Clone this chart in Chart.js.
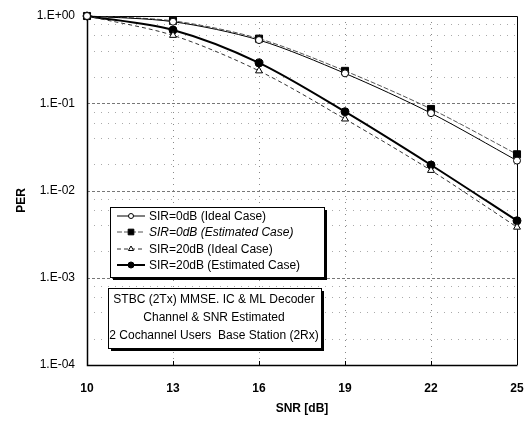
<!DOCTYPE html>
<html>
<head>
<meta charset="utf-8">
<script src="https://cdn.jsdelivr.net/npm/chart.js@4.4.1/dist/chart.umd.min.js"></script>
<style>
  html, body { margin: 0; padding: 0; background: #fff; }
  #wrap { width: 527px; height: 424px; }
</style>
</head>
<body>
<div id="wrap"><canvas id="perChart" width="527" height="424"></canvas></div>
<script>
// values
var snr = [10, 13, 16, 19, 22, 25];
var sir0Ideal = [1.0, 0.86, 0.53, 0.22, 0.077, 0.022];
var sir0Est = [1.0, 0.88, 0.55, 0.235, 0.086, 0.026];
var sir20Ideal = [1.0, 0.60, 0.235, 0.066, 0.017, 0.0038];
var sir20Est = [1.0, 0.69, 0.29, 0.080, 0.0196, 0.0045];
var seriesLabels = ['SIR=0dB (Ideal Case)', 'SIR=0dB (Estimated Case)', 'SIR=20dB (Ideal Case)', 'SIR=20dB (Estimated Case)'];
var yTicks = [1, 0.1, 0.01, 0.001, 0.0001];
var xTicks = [10, 13, 16, 19, 22, 25];
var noteLines = ['STBC (2Tx) MMSE. IC & ML Decoder', 'Channel & SNR Estimated', '2 Cochannel Users  Base Station (2Rx)'];

var FONT = '"Liberation Sans", Arial, sans-serif';

function toPoints(values) {
    return values.map(function (v, i) { return { x: snr[i], y: v }; });
}

function expLabel(v) {
    var e = Math.round(Math.log10(v));
    var s = Math.abs(e) < 10 ? '0' + Math.abs(e) : '' + Math.abs(e);
    return '1.E' + (e < 0 ? '-' : '+') + s;
}

// draws a marker using chart.js point helper
function marker(ctx, ds, x, y) {
    Chart.helpers.drawPoint(ctx, {
        pointStyle: ds.pointStyle,
        radius: ds.pointRadius,
        rotation: 0,
        borderWidth: ds.pointBorderWidth
    }, x, y);
}

function shadowBox(ctx, x, y, w, h) {
    ctx.save();
    ctx.fillStyle = '#000';
    ctx.fillRect(x + 3, y + 3, w, h);
    ctx.fillStyle = '#fff';
    ctx.fillRect(x, y, w, h);
    ctx.strokeStyle = '#000';
    ctx.lineWidth = 1;
    ctx.strokeRect(x + 0.5, y + 0.5, w, h);
    ctx.restore();
}

function hLine(ctx, a, y, dash, color) {
    ctx.setLineDash(dash);
    ctx.strokeStyle = color;
    ctx.beginPath();
    ctx.moveTo(a.left, y);
    ctx.lineTo(a.right, y);
    ctx.stroke();
}

var framePlugin = {
    id: 'frame',
    beforeDatasetsDraw: function (chart) {
        var ctx = chart.ctx, a = chart.chartArea;
        var xs = chart.scales.x, ys = chart.scales.y;
        ctx.save();
        ctx.lineWidth = 1;

        // dotted grid, minor lines at 2,4,6,8 of each decade
        yTicks.forEach(function (t) {
            if (t >= 1) return;
            [2, 4, 6, 8].forEach(function (m) {
                var py = Math.round(ys.getPixelForValue(t * m)) + 0.5;
                hLine(ctx, a, py, [1, 6], '#aaa');
            });
            if (t > 0.0001) {
                hLine(ctx, a, Math.round(ys.getPixelForValue(t)) + 0.5, [3, 2], '#777');
            }
        });
        xTicks.forEach(function (t) {
            if (t === 10 || t === 25) return;
            var px = Math.round(xs.getPixelForValue(t)) + 0.5;
            ctx.setLineDash([1, 5]);
            ctx.strokeStyle = '#888';
            ctx.beginPath();
            ctx.moveTo(px, a.top);
            ctx.lineTo(px, a.bottom);
            ctx.stroke();
        });

        // frame
        ctx.setLineDash([]);
        ctx.strokeStyle = '#000';
        ctx.beginPath();
        ctx.moveTo(a.left, a.top + 0.5);
        ctx.lineTo(a.right + 0.5, a.top + 0.5);
        ctx.lineTo(a.right + 0.5, a.bottom);
        ctx.stroke();
        ctx.lineWidth = 1.5;
        ctx.beginPath();
        ctx.moveTo(a.left + 0.5, a.top);
        ctx.lineTo(a.left + 0.5, a.bottom + 0.5);
        ctx.lineTo(a.right + 0.5, a.bottom + 0.5);
        ctx.stroke();

        // small inward tick marks on the x axis
        ctx.lineWidth = 1;
        xTicks.forEach(function (t) {
            var px = Math.round(xs.getPixelForValue(t)) + 0.5;
            ctx.beginPath();
            ctx.moveTo(px, a.bottom);
            ctx.lineTo(px, a.bottom - 4);
            ctx.stroke();
        });

        // rotated axis title
        ctx.fillStyle = '#000';
        ctx.font = 'bold 12px ' + FONT;
        ctx.textAlign = 'center';
        ctx.textBaseline = 'middle';
        ctx.translate(22, (a.top + a.bottom) / 2 + 10);
        ctx.rotate(-Math.PI / 2);
        ctx.fillText('PER', 0, 0);
        ctx.restore();
    },
    afterDraw: function (chart) {
        var ctx = chart.ctx;
        var dsets = chart.data.datasets;

        // legend box
        shadowBox(ctx, 110, 207, 214, 70);
        var rowY = [216, 232, 249, 265];
        dsets.forEach(function (ds, i) {
            var y = rowY[i];
            ctx.save();
            ctx.strokeStyle = ds.borderColor;
            ctx.lineWidth = ds.borderWidth;
            ctx.setLineDash(ds.borderDash || []);
            ctx.beginPath();
            ctx.moveTo(117, y);
            ctx.lineTo(145, y);
            ctx.stroke();
            ctx.setLineDash([]);
            ctx.fillStyle = ds.pointBackgroundColor;
            ctx.strokeStyle = ds.pointBorderColor;
            ctx.lineWidth = ds.pointBorderWidth;
            marker(ctx, Object.assign({}, ds, { pointRadius: ds.pointRadius - 1 }), 131, y);
            ctx.fillStyle = '#000';
            ctx.font = (i === 1 ? 'italic ' : '') + '12px ' + FONT;
            ctx.textBaseline = 'middle';
            ctx.textAlign = 'left';
            ctx.fillText(ds.label, 149, y + 1);
            ctx.restore();
        });

        // note box
        shadowBox(ctx, 108, 288, 213, 60);
        ctx.save();
        ctx.fillStyle = '#000';
        ctx.font = '12px ' + FONT;
        ctx.textAlign = 'center';
        ctx.textBaseline = 'middle';
        var noteY = [300, 318, 336];
        noteLines.forEach(function (t, i) {
            ctx.fillText(t, 214, noteY[i]);
        });
        ctx.restore();
    }
};

var ctx = document.getElementById('perChart').getContext('2d');
var chart = new Chart(ctx, {
    type: 'line',
    data: {
        datasets: [{
            label: seriesLabels[0],
            data: toPoints(sir0Ideal),
            borderColor: '#000',
            borderWidth: 1,
            pointStyle: 'circle',
            pointRadius: 3.5,
            pointBackgroundColor: '#fff',
            pointBorderColor: '#000',
            pointBorderWidth: 1,
            tension: 0.3,
            clip: false
        },
        {
            label: seriesLabels[1],
            data: toPoints(sir0Est),
            borderColor: '#555',
            borderWidth: 1,
            borderDash: [5, 2],
            pointStyle: 'rect',
            pointRadius: 5,
            pointBackgroundColor: '#000',
            pointBorderColor: '#000',
            pointBorderWidth: 1,
            tension: 0.3,
            clip: false
        },
        {
            label: seriesLabels[2],
            data: toPoints(sir20Ideal),
            borderColor: '#333',
            borderWidth: 1,
            borderDash: [4, 3],
            pointStyle: 'triangle',
            pointRadius: 4,
            pointBackgroundColor: '#fff',
            pointBorderColor: '#000',
            pointBorderWidth: 1,
            tension: 0.3,
            clip: false
        },
        {
            label: seriesLabels[3],
            data: toPoints(sir20Est),
            borderColor: '#000',
            borderWidth: 2,
            pointStyle: 'circle',
            pointRadius: 4,
            pointBackgroundColor: '#000',
            pointBorderColor: '#000',
            pointBorderWidth: 1,
            tension: 0.3,
            clip: false
        }]
    },
    options: {
        responsive: false,
        animation: false,
        layout: { padding: { top: 16, right: 10, left: 0, bottom: 0 } },
        plugins: {
            legend: { display: false },
            tooltip: { enabled: false }
        },
        scales: {
            x: {
                type: 'linear',
                min: 10,
                max: 25,
                afterBuildTicks: function (scale) {
                    scale.ticks = xTicks.map(function (v) { return { value: v }; });
                },
                afterFit: function (scale) {
                    scale.height = 59;
                    scale.paddingLeft = 0;
                    scale.paddingRight = 0;
                },
                ticks: {
                    color: '#000',
                    padding: 16,
                    font: { family: FONT, size: 12, weight: 'bold' }
                },
                grid: { display: false, tickLength: 0 },
                border: { display: false },
                title: {
                    display: true,
                    text: 'SNR [dB]',
                    color: '#000',
                    padding: { top: 0, bottom: 8 },
                    font: { family: FONT, size: 12, weight: 'bold' }
                }
            },
            y: {
                type: 'logarithmic',
                min: 0.0001,
                max: 1,
                afterFit: function (scale) {
                    scale.width = 87;
                    scale.paddingTop = 0;
                    scale.paddingBottom = 0;
                },
                ticks: {
                    color: '#000',
                    padding: 12,
                    autoSkip: false,
                    font: { family: FONT, size: 12 },
                    callback: function (v) {
                        return yTicks.indexOf(v) >= 0 ? expLabel(v) : '';
                    }
                },
                grid: { display: false, tickLength: 0 },
                border: { display: false }
            }
        }
    },
    plugins: [framePlugin]
});
</script>
</body>
</html>
